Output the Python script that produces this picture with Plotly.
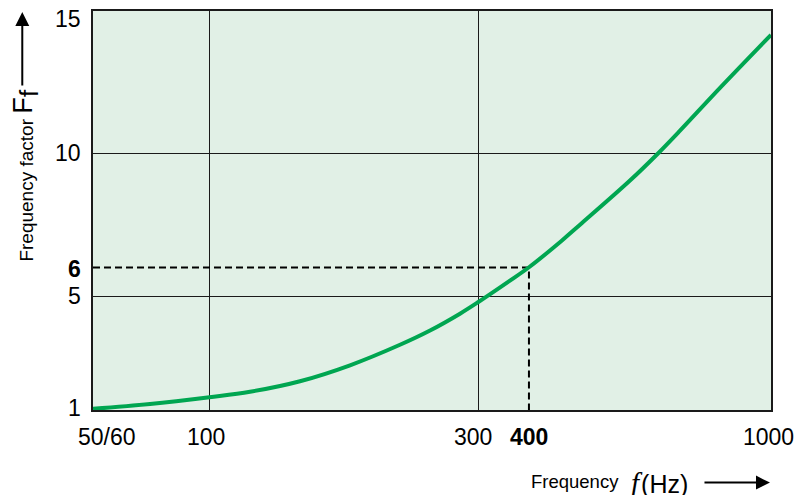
import plotly.graph_objects as go

# ---- data ----
# x axis is a schematic frequency axis: positions along the axis (0 = left edge, 100 = right edge)
freq_tick_labels = ["50/60", "100", "300", "<b>400</b>", "1000"]
freq_tick_pos = [0, 17.2, 56.8, 64.3, 100]
freq_grid_pos = [17.2, 56.8]          # vertical grid lines at 100 Hz and 300 Hz

ff_tick_vals = [1, 5, 6, 10, 15]
ff_tick_labels = ["1", "5", "<b>6</b>", "10", "15"]
ff_grid_vals = [5, 10]

curve_pos = [0, 8.41, 17.18, 23.16, 30.53, 37.91, 45.28, 49.71, 54.13, 56.78,
             61.50, 64.26, 69.13, 71.83, 79.20, 83.33, 86.58, 92.48, 100]
curve_ff = [1.04, 1.21, 1.45, 1.64, 2.01, 2.57, 3.29, 3.79, 4.38, 4.78,
            5.54, 6.0, 6.94, 7.50, 9.05, 10.0, 10.80, 12.3, 14.16]

marked_pos = 64.3   # 400 Hz
marked_ff = 6

# ---- styles ----
FONT = "Liberation Sans, Arial, Helvetica, sans-serif"
GREEN = "#00a651"
BG = "#e1f0e6"
x_label_shift = [14, -4, -5, 0, -3]
y_label_shift = [2, 0, -1, 1, -8]

fig = go.Figure()

fig.add_trace(go.Scatter(
    x=[freq_tick_pos[0], marked_pos, marked_pos],
    y=[marked_ff, marked_ff, ff_tick_vals[0]],
    mode="lines", line=dict(color="black", width=2, dash="7px,4px"),
    hoverinfo="skip", showlegend=False))

fig.add_trace(go.Scatter(
    x=curve_pos, y=curve_ff, mode="lines",
    line=dict(color=GREEN, width=4, shape="spline", smoothing=1.0),
    showlegend=False))

annotations = []
for lab, pos, sh in zip(freq_tick_labels, freq_tick_pos, x_label_shift):
    annotations.append(dict(
        text=lab, x=pos, y=0, xref="x", yref="paper", xanchor="center", yanchor="middle",
        xshift=sh, yshift=-27, showarrow=False, font=dict(family=FONT, size=23, color="black")))
for lab, val, sh in zip(ff_tick_labels, ff_tick_vals, y_label_shift):
    annotations.append(dict(
        text=lab, x=0, y=val, xref="paper", yref="y", xanchor="right", yanchor="middle",
        xshift=-10, yshift=sh, showarrow=False, font=dict(family=FONT, size=23, color="black")))

# y axis title: "Frequency factor  Ff ->"
annotations.append(dict(
    text="Frequency factor", x=-0.0973, y=0.55, xref="paper", yref="paper",
    textangle=-90, showarrow=False, xanchor="center", yanchor="middle",
    font=dict(family=FONT, size=19, color="black")))
annotations.append(dict(
    text="F", x=-0.1043, y=0.763, xref="paper", yref="paper",
    textangle=-90, showarrow=False, xanchor="center", yanchor="middle",
    font=dict(family=FONT, size=27, color="black")))
annotations.append(dict(
    text="f", x=-0.0954, y=0.7955, xref="paper", yref="paper",
    textangle=-90, showarrow=False, xanchor="center", yanchor="middle",
    font=dict(family=FONT, size=26, color="black")))
annotations.append(dict(
    text="", x=-0.1043, y=0.9975, xref="paper", yref="paper",
    showarrow=True, ax=0, ay=75, axref="pixel", ayref="pixel",
    arrowhead=2, arrowsize=1.4, arrowwidth=2, arrowcolor="black"))

# x axis title: "Frequency  f(Hz) ->"
annotations.append(dict(
    text="Frequency", x=0.6425, y=-0.178, xref="paper", yref="paper",
    showarrow=False, xanchor="left", yanchor="middle",
    font=dict(family=FONT, size=18.5, color="black")))
annotations.append(dict(
    text=("\u00a0<span style=\"font-family:'Liberation Serif', serif;font-size:29px\">"
          "<i>f</i></span>\u200a(Hz)"),
    x=0.780, y=-0.183, xref="paper", yref="paper",
    showarrow=False, xanchor="left", yanchor="middle",
    font=dict(family=FONT, size=25, color="black")))
annotations.append(dict(
    text="", x=0.9985, y=-0.182, xref="paper", yref="paper",
    showarrow=True, ax=-67, ay=0, axref="pixel", ayref="pixel",
    arrowhead=2, arrowsize=1.4, arrowwidth=2, arrowcolor="black"))

fig.update_layout(
    width=808, height=495,
    margin=dict(l=93, r=37, t=9, b=85),
    paper_bgcolor="white", plot_bgcolor=BG,
    annotations=annotations,
    font=dict(family=FONT, color="black"),
)
fig.update_xaxes(range=[0, 100], tickvals=freq_grid_pos, showticklabels=False,
                 showgrid=True, gridcolor="#1a1a1a", gridwidth=1, zeroline=False,
                 showline=True, mirror=True, linecolor="#1a1a1a", linewidth=2, ticks="")
fig.update_yaxes(range=[1, 15], tickvals=ff_grid_vals, showticklabels=False,
                 showgrid=True, gridcolor="#1a1a1a", gridwidth=1, zeroline=False,
                 showline=True, mirror=True, linecolor="#1a1a1a", linewidth=2, ticks="")

fig.write_html("out.html", config={"displayModeBar": False},
               post_script="document.body.style.margin='0';document.body.style.overflow='hidden';")
